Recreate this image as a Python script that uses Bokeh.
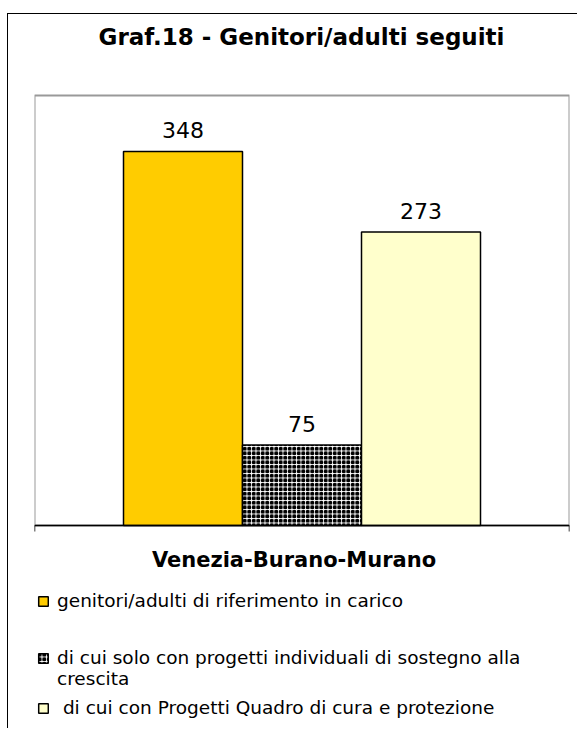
from bokeh.plotting import figure
from bokeh.models import (ColumnDataSource, FactorRange, Range1d, LabelSet, Label,
                          Legend, LegendItem, BoxAnnotation, Span)
from bokeh.core.properties import value
from bokeh.transform import dodge
from bokeh.embed import file_html
from bokeh.resources import INLINE

# ---- data ----
categories = ["Venezia-Burano-Murano"]
series_names = [
    "genitori/adulti di riferimento in carico",
    "di cui solo con progetti individuali di sostegno alla",
    "crescita",
    " di cui con Progetti Quadro di cura e protezione",
]
genitori = [348]
solo_individuali = [75]
progetti_quadro = [273]
y_max = 400
title_text = "Graf.18 - Genitori/adulti seguiti"

# ---- layout (pixels) ----
W, H = 570, 715
PX = 430 / y_max                 # pixels per unit inside the plot box
BASE = 204                        # baseline height above canvas bottom
y_lo = -BASE / PX
y_hi = y_max + 81 / PX

p = figure(width=W, height=H, x_range=FactorRange(factors=categories, range_padding=0),
           y_range=Range1d(y_lo, y_hi), output_backend="svg", toolbar_location=None,
           min_border_left=26, min_border_right=9, min_border_top=0, min_border_bottom=0)
p.styles = {"border-left": "1px solid black", "border-top": "1px solid black",
            "margin-left": "7px", "margin-top": "13px"}
p.background_fill_color = "white"
p.border_fill_color = "white"
p.outline_line_color = None
p.xgrid.visible = False
p.ygrid.visible = False
p.xaxis.visible = False
p.yaxis.visible = False

# plot box and category axis line
p.add_layout(BoxAnnotation(bottom=0, top=y_max, fill_alpha=0, line_color="#999999",
                           line_alpha=1, line_width=2, level="underlay"))
p.add_layout(Span(location=0, dimension="width", line_color="black", line_width=1.5))

src = ColumnDataSource(dict(cat=categories, g=genitori, s=solo_individuali, q=progetti_quadro,
                            gl=[str(v) for v in genitori], sl=[str(v) for v in solo_individuali],
                            ql=[str(v) for v in progetti_quadro], zero=[0]))
bw = 119 / 535
r1 = p.vbar(x=dodge("cat", -bw, range=p.x_range), top="g", bottom="zero", width=bw, source=src,
            fill_color="#FFCC00", line_color="black", line_width=1.5)
r2 = p.vbar(x=dodge("cat", 0, range=p.x_range), top="s", bottom="zero", width=bw, source=src,
            fill_color="white", line_color="black", line_width=1.5,
            hatch_pattern="ring", hatch_color="black", hatch_scale=4.5, hatch_weight=2)
r3 = p.vbar(x=dodge("cat", bw, range=p.x_range), top="q", bottom="zero", width=bw, source=src,
            fill_color="#FFFFCC", line_color="black", line_width=1.5)

# small tick marks at the two ends of the category axis
p.segment(x0=dodge("cat", -0.5, range=p.x_range), x1=dodge("cat", -0.5, range=p.x_range),
          y0="zero", y1=-6 / PX, source=src, line_color="black", line_width=1.5)
p.segment(x0=dodge("cat", 0.5, range=p.x_range), x1=dodge("cat", 0.5, range=p.x_range),
          y0="zero", y1=-6 / PX, source=src, line_color="black", line_width=1.5)

for col, lab, off in (("g", "gl", -bw), ("s", "sl", 0), ("q", "ql", bw)):
    p.add_layout(LabelSet(x=dodge("cat", off, range=p.x_range), y=col, text=lab, source=src,
                          y_offset=13, text_align="center", text_baseline="alphabetic",
                          text_font=value("DejaVu Sans"), text_font_size="22px",
                          text_color="black"))

# category label under the axis
p.add_layout(LabelSet(x="cat", y="zero", text="cat", source=src, x_offset=-8, y_offset=-41,
                      text_align="center", text_baseline="alphabetic",
                      text_font=value("DejaVu Sans"), text_font_style="bold",
                      text_font_size="21px", text_color="black"))

# title
p.add_layout(Label(x=267, y=H - 22, x_units="screen", y_units="screen", text=title_text,
                   text_align="center", text_baseline="alphabetic",
                   text_font="DejaVu Sans", text_font_style="bold",
                   text_font_size="23px", text_color="black"))

common = dict(orientation="vertical", border_line_color=None, background_fill_alpha=0,
              padding=0, margin=0, glyph_width=12, glyph_height=12, label_standoff=8,
              label_height=12, label_text_font="DejaVu Sans", label_text_font_size="18.5px",
              label_text_color="black")
legA = Legend(items=[LegendItem(label=series_names[0], renderers=[r1])],
              location=(3, 118), **common)
legB = Legend(items=[LegendItem(label=series_names[1], renderers=[r2]),
                     LegendItem(label=series_names[2], renderers=[])],
              location=(3, 40), spacing=-4, **common)
legC = Legend(items=[LegendItem(label=series_names[3], renderers=[r3])],
              location=(3, 11), **common)
for lg in (legA, legB, legC):
    p.add_layout(lg, "center")

open("out.html", "w").write(file_html(p, INLINE))
